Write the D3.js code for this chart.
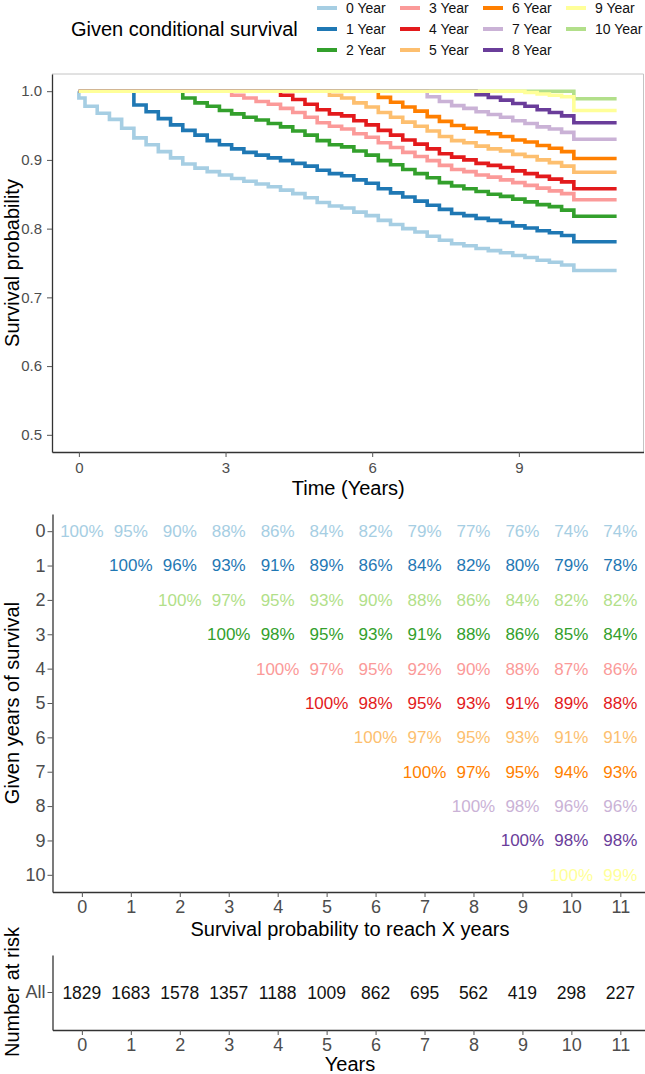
<!DOCTYPE html>
<html>
<head>
<meta charset="utf-8">
<script src="https://cdn.jsdelivr.net/npm/d3@7"></script>
<style>
  body { margin: 0; background: #fff; }
  text { font-family: "Liberation Sans", Arial, sans-serif; }
</style>
</head>
<body>
<svg id="chart" width="645" height="1074"></svg>
<script>
// time grid (years) shared by the conditional survival curves
var times = [0,0.25,0.5,0.75,1,1.25,1.5,1.75,2,2.25,2.5,2.75,3,3.25,3.5,3.75,4,4.25,4.5,4.75,
  5,5.25,5.5,5.75,6,6.25,6.5,6.75,7,7.25,7.5,7.75,8,8.25,8.5,8.75,9,9.25,9.5,9.75,10,10.25,11];

// each curve k starts at year k (values aligned with the tail of `times`)
var surv0 = [0.99,0.978,0.968,0.959,0.946,0.932,0.922,0.912,0.903,0.894,0.888,0.883,0.878,0.873,0.869,0.865,
  0.861,0.856,0.851,0.845,0.838,0.833,0.830,0.824,0.819,0.812,0.806,0.800,0.795,0.789,0.783,0.778,0.775,
  0.771,0.768,0.765,0.761,0.758,0.754,0.751,0.747,0.739,0.739];
var surv1 = [1,0.980,0.970,0.960,0.951,0.943,0.936,0.928,0.922,0.916,0.911,0.907,0.903,0.899,0.895,0.891,
  0.885,0.880,0.877,0.871,0.866,0.858,0.852,0.846,0.840,0.834,0.828,0.822,0.819,0.815,0.812,0.809,0.804,
  0.801,0.797,0.794,0.790,0.781,0.781];
var surv2 = [1,0.990,0.983,0.978,0.972,0.967,0.962,0.958,0.953,0.948,0.942,0.936,0.928,0.922,0.919,0.913,
  0.907,0.899,0.893,0.886,0.880,0.874,0.867,0.862,0.858,0.854,0.850,0.847,0.843,0.839,0.835,0.832,0.827,
  0.818,0.818];
var surv3 = [1,0.994,0.990,0.985,0.981,0.975,0.969,0.962,0.954,0.949,0.945,0.938,0.933,0.925,0.918,0.911,
  0.905,0.899,0.892,0.886,0.883,0.878,0.875,0.871,0.867,0.863,0.859,0.855,0.851,0.842,0.842];
var surv4 = [1,0.994,0.988,0.981,0.973,0.967,0.964,0.957,0.951,0.943,0.936,0.929,0.923,0.916,0.909,0.904,
  0.900,0.895,0.892,0.889,0.884,0.880,0.876,0.872,0.868,0.858,0.858];
var surv5 = [1,0.994,0.990,0.983,0.977,0.969,0.962,0.955,0.949,0.942,0.934,0.928,0.925,0.920,0.916,0.913,
  0.908,0.905,0.900,0.896,0.891,0.882,0.882];
var surv6 = [1,0.991,0.984,0.977,0.971,0.963,0.956,0.950,0.946,0.941,0.938,0.934,0.929,0.926,0.921,0.917,
  0.912,0.902,0.902];
var surv7 = [1,0.992,0.985,0.979,0.975,0.970,0.966,0.962,0.957,0.953,0.948,0.945,0.940,0.930,0.930];
var surv8 = [1,0.995,0.991,0.987,0.982,0.978,0.973,0.969,0.964,0.954,0.954];
var surv9 = [1,0.998,0.996,0.994,0.992,0.972,0.972];
var surv10 = [1,0.989,0.989];

var curveLabels = ["0 Year","1 Year","2 Year","3 Year","4 Year","5 Year","6 Year","7 Year","8 Year","9 Year","10 Year"];
var curveColors = ["#A6CEE3","#1F78B4","#33A02C","#FB9A99","#E31A1C","#FDBF6F","#FF7F00","#CAB2D6","#6A3D9A","#FFFF99","#B2DF8A"];
// ggplot draws the groups in alphabetical order: 0, 1, 10, 2 ... 9
var drawOrder = [0,1,10,2,3,4,5,6,7,8,9];

var timeTicks = [0,3,6,9];
var survTicks = [0.5,0.6,0.7,0.8,0.9,1.0];

// conditional survival table (row = given years, values from that year to 11)
var tableRows = [
  [100,95,90,88,86,84,82,79,77,76,74,74],
  [100,96,93,91,89,86,84,82,80,79,78],
  [100,97,95,93,90,88,86,84,82,82],
  [100,98,95,93,91,88,86,85,84],
  [100,97,95,92,90,88,87,86],
  [100,98,95,93,91,89,88],
  [100,97,95,93,91,91],
  [100,97,95,94,93],
  [100,98,96,96],
  [100,98,98],
  [100,99]
];
var tableColors = ["#A6CEE3","#1F78B4","#B2DF8A","#33A02C","#FB9A99","#E31A1C","#FDBF6F","#FF7F00","#CAB2D6","#6A3D9A","#FFFF99"];

var riskYears = [0,1,2,3,4,5,6,7,8,9,10,11];
var riskCounts = [1829,1683,1578,1357,1188,1009,862,695,562,419,298,227];

var survCurves = [surv0,surv1,surv2,surv3,surv4,surv5,surv6,surv7,surv8,surv9,surv10];

var svg = d3.select("#chart");
var axisCol = "#333333", tickTextCol = "#4D4D4D";

function styleAxis(g, fontSize) {
  g.select(".domain").attr("stroke", axisCol).attr("stroke-width", 1.3);
  g.selectAll(".tick line").attr("stroke", "#555").attr("stroke-width", 1);
  g.selectAll(".tick text").attr("fill", tickTextCol).style("font-size", fontSize + "px")
    .style("font-family", '"Liberation Sans", Arial, sans-serif');
}

// ---------------- legend ----------------
var legend = svg.append("g");
legend.append("text").attr("x", 71).attr("y", 29).attr("dy", "0.35em")
  .style("font-size", "20px").text("Given conditional survival");
var legCols = [346, 429, 512, 595], legRows = [8, 29, 50];
curveLabels.forEach(function(lab, i) {
  var cx = legCols[Math.floor(i / 3)], cy = legRows[i % 3];
  legend.append("line").attr("x1", cx - 29).attr("x2", cx - 9).attr("y1", cy).attr("y2", cy)
    .attr("stroke", curveColors[i]).attr("stroke-width", 4);
  legend.append("text").attr("x", cx).attr("y", cy).attr("dy", "0.35em")
    .style("font-size", "14px").attr("fill", "#111").text(lab);
});

// ---------------- survival curves ----------------
var x = d3.scaleLinear().domain([-0.55, 11.55]).range([52, 643.5]);
var y = d3.scaleLinear().domain([0.475, 1.025]).range([452, 74]);

svg.append("path").attr("d", "M52,74H643.5V452").attr("fill", "none")
  .attr("stroke", "#C4C4C4").attr("stroke-width", 1);

var line = d3.line().x(function(d) { return x(d.t); }).y(function(d) { return y(d.v); })
  .curve(d3.curveStep);

drawOrder.forEach(function(k) {
  var vals = survCurves[k];
  var ts = times.slice(times.length - vals.length);
  var pts = [{t: 0, v: 1}].concat(vals.map(function(v, i) { return {t: ts[i], v: v}; }));
  svg.append("path").datum(pts).attr("d", line).attr("fill", "none")
    .attr("stroke", curveColors[k]).attr("stroke-width", 3.6);
});

var gx = svg.append("g").attr("transform", "translate(0,452)")
  .call(d3.axisBottom(x).tickValues(timeTicks).tickSize(5).tickPadding(5).tickSizeOuter(0));
styleAxis(gx, 15);
var gy = svg.append("g").attr("transform", "translate(52,0)")
  .call(d3.axisLeft(y).tickValues(survTicks).tickFormat(d3.format(".1f")).tickSize(5).tickPadding(5).tickSizeOuter(0));
styleAxis(gy, 15);

svg.append("text").attr("x", x(5.5) + 0.5).attr("y", 495).attr("text-anchor", "middle")
  .style("font-size", "20px").text("Time (Years)");
svg.append("text").attr("transform", "translate(19,263) rotate(-90)").attr("text-anchor", "middle")
  .style("font-size", "20px").text("Survival probability");

// ---------------- conditional survival table ----------------
var xt = d3.scaleLinear().domain([-0.6, 11.6]).range([52.5, 649.7]);
var yt = d3.scaleLinear().domain([-0.5, 10.5]).range([514, 892]);

tableRows.forEach(function(row, k) {
  svg.append("g").selectAll("text").data(row).join("text")
    .attr("x", function(d, j) { return xt(k + j); })
    .attr("y", yt(k)).attr("dy", "0.35em").attr("text-anchor", "middle")
    .attr("fill", tableColors[k]).style("font-size", "17px")
    .text(function(d) { return d + "%"; });
});

var gtx = svg.append("g").attr("transform", "translate(0,892)")
  .call(d3.axisBottom(xt).tickValues(riskYears).tickSize(5).tickPadding(3).tickSizeOuter(0));
styleAxis(gtx, 18);
var gty = svg.append("g").attr("transform", "translate(52.5,0)")
  .call(d3.axisLeft(yt).tickValues(d3.range(tableRows.length)).tickSize(5).tickPadding(2).tickSizeOuter(0));
styleAxis(gty, 18);

svg.append("text").attr("x", 350).attr("y", 936).attr("text-anchor", "middle")
  .style("font-size", "20px").text("Survival probability to reach X years");
svg.append("text").attr("transform", "translate(19,703) rotate(-90)").attr("text-anchor", "middle")
  .style("font-size", "20px").text("Given years of survival");

// ---------------- number at risk ----------------
var yr = d3.scaleBand().domain(["All"]).range([955, 1030]);

svg.append("g").selectAll("text").data(riskCounts).join("text")
  .attr("x", function(d, i) { return xt(riskYears[i]); })
  .attr("y", yr("All") + yr.bandwidth() / 2).attr("dy", "0.35em").attr("text-anchor", "middle")
  .attr("fill", "#111").style("font-size", "17.5px").text(function(d) { return d; });

var grx = svg.append("g").attr("transform", "translate(0,1030)")
  .call(d3.axisBottom(xt).tickValues(riskYears).tickSize(5).tickPadding(3).tickSizeOuter(0));
styleAxis(grx, 18);
var gry = svg.append("g").attr("transform", "translate(52.5,0)")
  .call(d3.axisLeft(yr).tickSize(5).tickPadding(2).tickSizeOuter(0));
styleAxis(gry, 18);

svg.append("text").attr("x", 350).attr("y", 1071).attr("text-anchor", "middle")
  .style("font-size", "20px").text("Years");
svg.append("text").attr("transform", "translate(19,992) rotate(-90)").attr("text-anchor", "middle")
  .style("font-size", "20px").text("Number at risk");
</script>
</body>
</html>
